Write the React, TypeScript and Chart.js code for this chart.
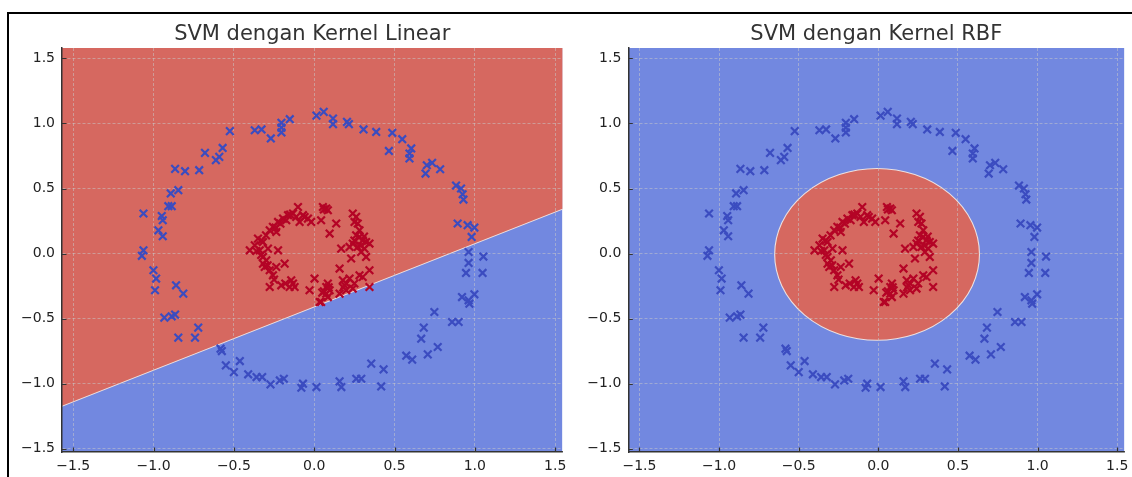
import React, { useEffect, useRef } from "react";
import { Chart, registerables } from "chart.js";

Chart.register(...registerables);

// ---------- data ----------
const outerX = [
  -0.525, -0.37, -0.328, -0.27, -0.204, -0.152, -0.204, -0.204, 0.014, 0.059,
  0.117, 0.117, 0.204, 0.216, 0.307, 0.386, 0.486, 0.548, 0.465, 0.604,
  0.593, 0.593, 0.701, 0.734, 0.693, 0.784, 0.883, 0.914, 0.924, 0.929,
  0.893, 0.955, 0.997, 0.98, 0.961, 1.053, 0.961, 0.945, 1.048, 0.92,
  0.961, 0.966, 0.997, 0.748, 0.858, 0.899, 0.682, 0.666, 0.769, 0.707,
  0.573, 0.61, 0.355, 0.432, 0.262, 0.293, 0.158, 0.169, 0.417, 0.014,
  -0.08, -0.07, -0.214, -0.189, -0.272, -0.359, -0.324, -0.411, -0.5, -0.463,
  -0.55, -0.583, -0.575, -0.722, -0.846, -0.742, -0.933, -0.887, -0.866, -0.86,
  -0.815, -1.001, -0.984, -0.991, -1.063, -1.073, -1.063, -0.949, -0.943, -0.97,
  -0.943, -0.908, -0.887, -0.893, -0.846, -0.866, -0.804, -0.716, -0.68, -0.57,
  -0.591, -0.612,
];
const outerY = [
  0.941, 0.948, 0.954, 0.885, 1.005, 1.033, 0.931, 0.968, 1.06, 1.089,
  1.038, 0.995, 1.012, 0.995, 0.954, 0.935, 0.928, 0.879, 0.789, 0.808,
  0.769, 0.731, 0.679, 0.697, 0.615, 0.648, 0.523, 0.5, 0.456, 0.415,
  0.231, 0.218, 0.2, 0.128, 0.012, -0.023, -0.072, -0.149, -0.149, -0.334,
  -0.359, -0.385, -0.313, -0.449, -0.526, -0.526, -0.569, -0.654, -0.718, -0.775,
  -0.785, -0.815, -0.846, -0.89, -0.962, -0.962, -0.982, -1.026, -1.021, -1.026,
  -1.031, -1.0, -0.975, -0.962, -1.005, -0.949, -0.949, -0.928, -0.911, -0.826,
  -0.859, -0.731, -0.749, -0.569, -0.646, -0.646, -0.492, -0.482, -0.469, -0.244,
  -0.308, -0.128, -0.192, -0.282, 0.025, -0.017, 0.308, 0.289, 0.256, 0.179,
  0.133, 0.364, 0.364, 0.462, 0.487, 0.651, 0.633, 0.641, 0.774, 0.812,
  0.743, 0.718,
];

const innerX = [
  -0.101, -0.132, -0.163, -0.194, -0.225, -0.257, -0.277, -0.236, -0.174, -0.112,
  -0.07, -0.039, -0.019, -0.091, 0.054, 0.075, 0.085, 0.043, 0.137, 0.096,
  0.24, 0.261, 0.251, 0.271,
  -0.35, -0.319, -0.37, -0.401, -0.339, -0.288, -0.225, -0.319, -0.298, -0.319,
  -0.308, -0.277, -0.257, -0.236, -0.184, -0.277, -0.205, -0.143, -0.132, -0.153,
  -0.122,
  -0.029, 0.002, 0.034, 0.043, 0.075, 0.085, 0.096, 0.075, 0.085, 0.158,
  0.178, 0.189, 0.22, 0.199, 0.158, 0.24, 0.282, 0.344, 0.344, 0.302,
  0.24, 0.282, 0.302, 0.323, 0.344, 0.271, 0.313, 0.292, 0.22, 0.168,
  0.23, 0.323, 0.282, 0.261,
  -0.15, -0.21, -0.24, -0.3, -0.33, -0.36, -0.33, -0.29, -0.25, -0.18,
  0.06, 0.09, 0.05, 0.2, 0.25, 0.29, 0.31, 0.25, 0.06, -0.06, 0.18,
];
const innerY = [
  0.358, 0.308, 0.295, 0.269, 0.243, 0.205, 0.179, 0.166, 0.256, 0.282,
  0.295, 0.269, 0.243, 0.243, 0.358, 0.346, 0.333, 0.256, 0.231, 0.154,
  0.308, 0.282, 0.243, 0.231,
  0.115, 0.089, 0.064, 0.025, 0.025, 0.038, 0.025, -0.026, -0.052, -0.077,
  -0.103, -0.128, -0.167, -0.103, -0.077, -0.257, -0.244, -0.205, -0.231, -0.257,
  -0.257,
  -0.282, -0.192, -0.372, -0.372, -0.257, -0.231, -0.282, -0.308, -0.334, -0.115,
  -0.205, -0.244, -0.192, -0.282, -0.308, -0.269, -0.167, -0.128, -0.257, -0.18,
  0.077, 0.128, 0.102, 0.089, 0.077, 0.051, 0.038, 0.012, 0.051, 0.038,
  -0.038, -0.026, 0.179, 0.141,
  0.3, 0.23, 0.2, 0.14, 0.1, 0.02, -0.01, -0.09, -0.2, -0.23,
  -0.29, -0.26, -0.3, -0.23, -0.23, 0.06, 0.13, 0.1, 0.34, 0.28, -0.26,
];

const xTicks = [-1.5, -1.0, -0.5, 0.0, 0.5, 1.0, 1.5];
const yTicks = [-1.5, -1.0, -0.5, 0.0, 0.5, 1.0, 1.5];
const xRange = [-1.57, 1.545];
const yRange = [-1.525, 1.58];

// decision boundaries
const linearSlope = 0.49;
const linearIntercept = -0.41;
const rbfCenter = [-0.008, -0.006];
const rbfRadius = [0.643, 0.66];

const titles = ["SVM dengan Kernel Linear", "SVM dengan Kernel RBF"];

// ---------- styles ----------
const BLUE_REGION = "rgb(114,136,224)";
const RED_REGION = "rgb(214,104,96)";
const BLUE_MARK = "rgb(59,76,192)";
const RED_MARK = "rgb(180,4,38)";
const EDGE = "rgba(245,235,230,0.9)";
const SPINE = "#333333";
const FONT = "'DejaVu Sans', sans-serif";

const fmt = (v: number) => (v < 0 ? "\u2212" : "") + Math.abs(v).toFixed(1);

function decisionPlugin(kind: "linear" | "rbf") {
  return {
    id: "decision-" + kind,
    beforeDraw(chart: any) {
      const { ctx, chartArea: a } = chart;
      const xs = chart.scales.x;
      const ys = chart.scales.y;
      ctx.save();
      ctx.beginPath();
      ctx.rect(a.left, a.top, a.right - a.left, a.bottom - a.top);
      ctx.clip();
      ctx.fillStyle = BLUE_REGION;
      ctx.fillRect(a.left, a.top, a.right - a.left, a.bottom - a.top);
      if (kind === "linear") {
        const x0 = xRange[0];
        const x1 = xRange[1];
        const px0 = xs.getPixelForValue(x0);
        const py0 = ys.getPixelForValue(linearSlope * x0 + linearIntercept);
        const px1 = xs.getPixelForValue(x1);
        const py1 = ys.getPixelForValue(linearSlope * x1 + linearIntercept);
        ctx.beginPath();
        ctx.moveTo(px0 - 2, py0);
        ctx.lineTo(px1 + 2, py1);
        ctx.lineTo(a.right + 2, a.top - 2);
        ctx.lineTo(a.left - 2, a.top - 2);
        ctx.closePath();
        ctx.fillStyle = RED_REGION;
        ctx.fill();
        ctx.beginPath();
        ctx.moveTo(px0 - 2, py0);
        ctx.lineTo(px1 + 2, py1);
        ctx.strokeStyle = EDGE;
        ctx.lineWidth = 1.1;
        ctx.stroke();
      } else {
        const cx = xs.getPixelForValue(rbfCenter[0]);
        const cy = ys.getPixelForValue(rbfCenter[1]);
        const rx = xs.getPixelForValue(rbfCenter[0] + rbfRadius[0]) - cx;
        const ry = cy - ys.getPixelForValue(rbfCenter[1] + rbfRadius[1]);
        ctx.beginPath();
        ctx.ellipse(cx, cy, rx, ry, 0, 0, Math.PI * 2);
        ctx.fillStyle = RED_REGION;
        ctx.fill();
        ctx.strokeStyle = EDGE;
        ctx.lineWidth = 1.1;
        ctx.stroke();
      }
      ctx.restore();
    },
    afterDraw(chart: any) {
      const { ctx, chartArea: a } = chart;
      const xs = chart.scales.x;
      const ys = chart.scales.y;
      ctx.save();
      ctx.strokeStyle = SPINE;
      ctx.lineWidth = 1.2;
      ctx.beginPath();
      xTicks.forEach((v) => {
        const p = Math.round(xs.getPixelForValue(v)) + 0.5;
        ctx.moveTo(p, a.bottom);
        ctx.lineTo(p, a.bottom - 4.5);
      });
      yTicks.forEach((v) => {
        const p = Math.round(ys.getPixelForValue(v)) + 0.5;
        ctx.moveTo(a.left, p);
        ctx.lineTo(a.left + 4.5, p);
      });
      ctx.stroke();
      ctx.restore();
    },
  };
}

function makeConfig(kind: "linear" | "rbf", title: string, yAxisWidth: number, padRight: number): any {
  const outer = outerX.map((x, i) => ({ x, y: outerY[i] }));
  const inner = innerX.map((x, i) => ({ x, y: innerY[i] }));
  const tickFont = { family: FONT, size: 14 };
  return {
    type: "scatter",
    data: {
      datasets: [
        {
          data: outer,
          pointStyle: "crossRot",
          pointRadius: 5.4,
          pointBorderWidth: 2.2,
          borderColor: BLUE_MARK,
          backgroundColor: BLUE_MARK,
        },
        {
          data: inner,
          pointStyle: "crossRot",
          pointRadius: 5.4,
          pointBorderWidth: 2.2,
          borderColor: RED_MARK,
          backgroundColor: RED_MARK,
        },
      ],
    },
    options: {
      animation: false,
      responsive: false,
      events: [],
      layout: { padding: { left: 0, right: padRight, top: 0, bottom: 0 } },
      plugins: {
        legend: { display: false },
        tooltip: { enabled: false },
        title: {
          display: true,
          text: title,
          fullSize: false,
          color: "#333333",
          font: { family: FONT, size: 21, weight: "normal", lineHeight: 1.2 },
          padding: { top: 21.7, bottom: 1.1 },
        },
      },
      scales: {
        x: {
          type: "linear",
          min: xRange[0],
          max: xRange[1],
          afterBuildTicks: (s: any) => {
            s.ticks = xTicks.map((value) => ({ value }));
          },
          afterFit: (s: any) => {
            s.height = 25;
            s.paddingLeft = 0;
            s.paddingRight = 0;
          },
          ticks: {
            callback: (v: number) => fmt(v),
            font: tickFont,
            color: "#222222",
            padding: 6,
            maxRotation: 0,
            autoSkip: false,
          },
          grid: { color: "rgba(200,200,200,0.65)", lineWidth: 0.8, drawTicks: false },
          border: { display: true, color: SPINE, width: 1.5, dash: [3, 2] },
        },
        y: {
          type: "linear",
          min: yRange[0],
          max: yRange[1],
          afterBuildTicks: (s: any) => {
            s.ticks = yTicks.map((value) => ({ value }));
          },
          afterFit: (s: any) => {
            s.width = yAxisWidth;
            s.paddingTop = 0;
            s.paddingBottom = 0;
          },
          ticks: {
            callback: (v: number) => fmt(v),
            font: tickFont,
            color: "#222222",
            padding: 7,
            autoSkip: false,
          },
          grid: { color: "rgba(200,200,200,0.65)", lineWidth: 0.8, drawTicks: false },
          border: { display: true, color: SPINE, width: 1.5, dash: [3, 2] },
        },
      },
    },
    plugins: [decisionPlugin(kind)],
  };
}

function Panel(props: { kind: "linear" | "rbf"; title: string; left: number; width: number; yAxisWidth: number; padRight: number }) {
  const ref = useRef<HTMLCanvasElement | null>(null);
  useEffect(() => {
    if (!ref.current) return;
    const chart = new Chart(ref.current, makeConfig(props.kind, props.title, props.yAxisWidth, props.padRight));
    return () => chart.destroy();
  }, []);
  return (
    <canvas
      ref={ref}
      width={props.width}
      height={477}
      style={{ position: "absolute", left: props.left, top: 0, width: props.width, height: 477 }}
    />
  );
}

export default function App() {
  return (
    <div
      style={{
        position: "absolute",
        left: 0,
        top: 0,
        width: 1132,
        height: 477,
        overflow: "hidden",
        background: "#ffffff",
      }}
    >
      <div
        style={{
          position: "absolute",
          left: 7,
          top: 12,
          width: 1125,
          height: 465,
          boxSizing: "border-box",
          borderTop: "2px solid #000",
          borderLeft: "2px solid #000",
        }}
      />
      <Panel kind="linear" title={titles[0]} left={0} width={570} yAxisWidth={62} padRight={7} />
      <Panel kind="rbf" title={titles[1]} left={570} width={562} yAxisWidth={58.3} padRight={2} />
    </div>
  );
}
